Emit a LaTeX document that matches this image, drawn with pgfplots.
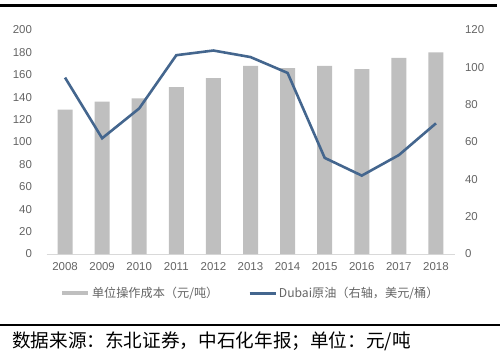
\documentclass[border=0pt]{standalone}
\usepackage{pgfplots}
\pgfplotsset{compat=1.18}
\usepackage{fontspec}
\setmainfont{Liberation Sans}
\newfontfamily\cjk{Noto Sans CJK SC}
\definecolor{barc}{RGB}{191,191,191}
\definecolor{linec}{RGB}{68,102,142}
\definecolor{tickc}{RGB}{100,100,100}
\begin{document}
\begin{tikzpicture}[x=1bp,y=1bp]
\fill[black] (0,28) rectangle (500,30);
\fill[black] (0,346.5) rectangle (497,349.5);
\node[anchor=west,inner sep=0pt] at (12,13) {\cjk\fontsize{18.7}{21}\selectfont 数据来源：东北证券，中石化年报；单位：元/吨};
\begin{axis}[
  at={(46.5bp,100bp)}, anchor=south west,
  scale only axis, width=408bp, height=224bp,
  xmin=2007.5, xmax=2018.5, ymin=0, ymax=200,
  xtick={2008,...,2018},
  ytick={0,20,...,200},
  axis line style={draw=none},
  major tick length=0pt,
  /pgf/number format/assume math mode=true,
  /pgf/number format/1000 sep={},
  ticklabel style={font=\fontsize{11.5}{13}\selectfont, text=tickc},
  yticklabel style={xshift=-11bp},
  xticklabel style={yshift=-5bp},
  clip=false,
]
\draw[color=black!15, line width=0.8bp] (axis cs:2007.5,0) -- (axis cs:2018.5,0);
\addplot[ybar, bar width=15bp, fill=barc, draw=none, forget plot] coordinates {
(2008,129) (2009,136) (2010,139) (2011,149) (2012,157) (2013,168)
(2014,166) (2015,168) (2016,165) (2017,175) (2018,180)};
\end{axis}
\begin{axis}[
  at={(46.5bp,100bp)}, anchor=south west,
  scale only axis, width=408bp, height=224bp,
  xmin=2007.5, xmax=2018.5, ymin=0, ymax=120,
  axis y line*=right, axis x line=none,
  y axis line style={draw=none},
  ytick={0,20,...,120},
  major tick length=0pt,
  /pgf/number format/assume math mode=true,
  ticklabel style={font=\fontsize{11.5}{13}\selectfont, text=tickc},
  yticklabel style={xshift=7bp},
  clip=false,
  legend columns=2,
  legend style={at={(0.5,-0.175)}, anchor=center, draw=none, fill=none,
    font=\cjk\fontsize{12.2}{14}\selectfont, text=tickc,
    /tikz/every even column/.append style={column sep=28bp}},
  legend image code/.code={\draw[#1] (0bp,0bp) -- (26bp,0bp);},
]
\addlegendimage{line width=3.5bp, color=barc}
\addlegendentry{单位操作成本（元/吨）}
\addplot[color=linec, line width=2.6bp, mark=none] coordinates {
(2008,94.5) (2009,62) (2010,78) (2011,106.5) (2012,109) (2013,105.5)
(2014,97) (2015,51.5) (2016,42) (2017,53) (2018,70)};
\addlegendentry{Dubai原油（右轴，美元/桶）}
\end{axis}
\pgfresetboundingbox
\path[use as bounding box] (0,0) rectangle (500,354);
\end{tikzpicture}
\end{document}
